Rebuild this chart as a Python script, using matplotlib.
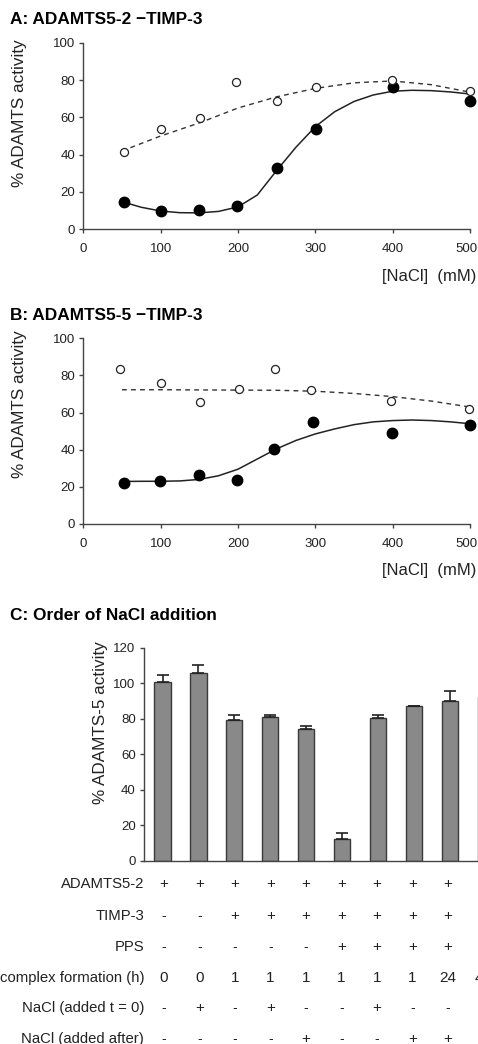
import numpy as np
import matplotlib.pyplot as plt
import matplotlib.transforms as mtransforms

plt.rcParams['font.family'] = ['Liberation Sans', 'DejaVu Sans']

# Panel A: ADAMTS5-2 - TIMP-3
a_open_x = [52, 101, 151, 198, 250, 301, 399, 500]
a_open_y = [41.2, 53.9, 59.5, 79.0, 68.8, 76.0, 79.8, 74.1]
a_fill_x = [52, 100, 150, 199, 250, 301, 400, 500]
a_fill_y = [14.6, 10.0, 10.5, 12.5, 33.0, 53.9, 76.0, 69.0]
a_dash_x = [50, 100, 150, 200, 250, 300, 350, 400, 450, 500]
a_dash_y = [42.0, 50.0, 57.0, 65.0, 71.0, 75.5, 78.5, 79.5, 77.5, 73.5]
a_fit_x = [50, 75, 100, 125, 150, 175, 200, 225, 250, 275, 300, 325, 350, 375, 400, 425, 450, 475, 500]
a_fit_y = [14.8, 11.8, 9.8, 8.9, 8.8, 9.6, 12.0, 18.4, 31.5, 44.0, 55.0, 63.0, 68.5, 72.0, 74.0, 74.5, 74.3, 73.6, 72.5]

# Panel B: ADAMTS5-5 - TIMP-3
b_open_x = [48, 101, 151, 201, 248, 294, 398, 499]
b_open_y = [83.7, 75.8, 65.7, 72.7, 83.3, 72.2, 66.4, 61.9]
b_fill_x = [53, 99, 149, 199, 247, 297, 399, 500]
b_fill_y = [22.3, 23.3, 26.6, 23.7, 40.4, 54.8, 48.8, 53.1]
b_dash_x = [50, 100, 150, 200, 250, 300, 350, 400, 450, 500]
b_dash_y = [72.3, 72.3, 72.2, 72.1, 72.0, 71.5, 70.3, 68.6, 66.2, 63.0]
b_fit_x = [50, 75, 100, 125, 150, 175, 200, 225, 250, 275, 300, 325, 350, 375, 400, 425, 450, 475, 500]
b_fit_y = [22.9, 23.0, 23.0, 23.2, 24.0, 26.0, 29.5, 35.0, 40.5, 45.0, 48.5, 51.2, 53.5, 55.0, 55.7, 56.0, 55.7, 55.0, 54.0]

# Panel C: order of NaCl addition
c_activity = [100.7, 105.7, 79.4, 81.0, 74.3, 11.9, 80.6, 86.9, 90.2, 92.3]
c_error = [3.7, 4.7, 2.6, 1.2, 1.8, 3.7, 1.4, 0.3, 5.5, 3.0]
row_names = ['ADAMTS5-2', 'TIMP-3', 'PPS', 'complex formation (h)',
             'NaCl (added t = 0)', 'NaCl (added after)']
row_values = [
    ['+', '+', '+', '+', '+', '+', '+', '+', '+', '+'],
    ['-', '-', '+', '+', '+', '+', '+', '+', '+', '+'],
    ['-', '-', '-', '-', '-', '+', '+', '+', '+', '+'],
    ['0', '0', '1', '1', '1', '1', '1', '1', '24', '48'],
    ['-', '+', '-', '+', '-', '-', '+', '-', '-', '-'],
    ['-', '-', '-', '-', '+', '-', '-', '+', '+', '+'],
]

W, H = 478, 1044
fig = plt.figure(figsize=(W / 100, H / 100), dpi=100)
txt = '#222222'


def px_rect(left, top, right, bottom):
    return [left / W, 1 - bottom / H, (right - left) / W, (bottom - top) / H]


def style_axes(ax, tick_size):
    for s in ['top', 'right']:
        ax.spines[s].set_visible(False)
    for s in ['left', 'bottom']:
        ax.spines[s].set_color('#444444')
        ax.spines[s].set_linewidth(1.0)
    ax.tick_params(direction='out', length=3, width=1, color='#444444',
                   labelsize=tick_size, labelcolor=txt, pad=3)


def curve_panel(rect, title, title_y, label_y, ox, oy, fx, fy, dx, dy, sx, sy):
    ax = fig.add_axes(px_rect(*rect))
    ax.plot(dx, dy, '--', color='#333333', lw=1.0, dashes=(3.5, 3))
    ax.plot(sx, sy, '-', color='#222222', lw=1.1)
    ax.plot(fx, fy, 'o', color='black', ms=7.5, clip_on=False)
    ax.plot(ox, oy, 'o', mfc='white', mec='#222222', mew=0.9, ms=5.8, clip_on=False)
    ax.set_xlim(0, 500)
    ax.set_ylim(0, 100)
    ax.set_xticks([0, 100, 200, 300, 400, 500])
    ax.set_yticks([0, 20, 40, 60, 80, 100])
    style_axes(ax, 9.5)
    ax.tick_params(axis='x', pad=7)
    # last x label sits a little left in the source
    last = ax.get_xticklabels()[-1]
    last.set_transform(last.get_transform() + mtransforms.ScaledTranslation(-4 / 100, 0, fig.dpi_scale_trans))
    ax.set_ylabel('% ADAMTS activity', fontsize=12.3, color=txt)
    ax.yaxis.set_label_coords((27 - rect[0]) / (rect[2] - rect[0]),
                              (rect[3] - label_y) / (rect[3] - rect[1]))
    fig.text(476 / W, 1 - (rect[3] + 47) / H, '[NaCl]  (mM)', ha='right', va='center',
             fontsize=12, color=txt)
    fig.text(10 / W, 1 - title_y / H, title, ha='left', va='center',
             fontsize=12.4, fontweight='bold', color='black')
    return ax


curve_panel((83.3, 42.7, 470, 229.3), 'A: ADAMTS5-2 \u2212TIMP-3', 19, 113,
            a_open_x, a_open_y, a_fill_x, a_fill_y, a_dash_x, a_dash_y, a_fit_x, a_fit_y)
curve_panel((83.3, 338.3, 470, 524), 'B: ADAMTS5-5 \u2212TIMP-3', 315, 404,
            b_open_x, b_open_y, b_fill_x, b_fill_y, b_dash_x, b_dash_y, b_fit_x, b_fit_y)

# Panel C
fig.text(10 / W, 1 - 615 / H, 'C: Order of NaCl addition', ha='left', va='center',
         fontsize=12.4, fontweight='bold', color='black')
spacing = 35.94
x0, x1 = 0.485, 10.8
c_left, c_right = 144, 144 + (x1 - x0) * spacing
axc = fig.add_axes(px_rect(c_left, 647.7, c_right, 860.5))
pos = np.arange(1, len(c_activity) + 1)
axc.bar(pos, c_activity, width=0.45, color='#898989', edgecolor='#3a3a3a', lw=1.0,
        yerr=[np.zeros(len(c_error)), c_error],
        error_kw=dict(ecolor='#222222', elinewidth=1.2, capsize=4, capthick=1.2))
axc.set_xlim(x0, x1)
axc.set_ylim(0, 120)
axc.set_yticks([0, 20, 40, 60, 80, 100, 120])
axc.set_xticks([])
style_axes(axc, 9.5)
axc.set_ylabel('% ADAMTS-5 activity', fontsize=12.3, color=txt)
axc.yaxis.set_label_coords((108 - c_left) / (c_right - c_left), 0.646)

# table of conditions under the bars (columns a little tighter than the bars)
row_y = [884.3, 915.7, 946.7, 977.7, 1008.3, 1039]
col_x = [(164 + i * 35.5) / W for i in range(len(c_activity))]
for name, vals, yp in zip(row_names, row_values, row_y):
    fy = 1 - yp / H
    fig.text(144 / W, fy, name, ha='right', va='center', fontsize=10.7, color=txt)
    for cx, v in zip(col_x, vals):
        fig.text(cx, fy, v, ha='center', va='center',
                 fontsize=11 if v != '-' else 10, color=txt)

fig.savefig('out.png', dpi=100)
